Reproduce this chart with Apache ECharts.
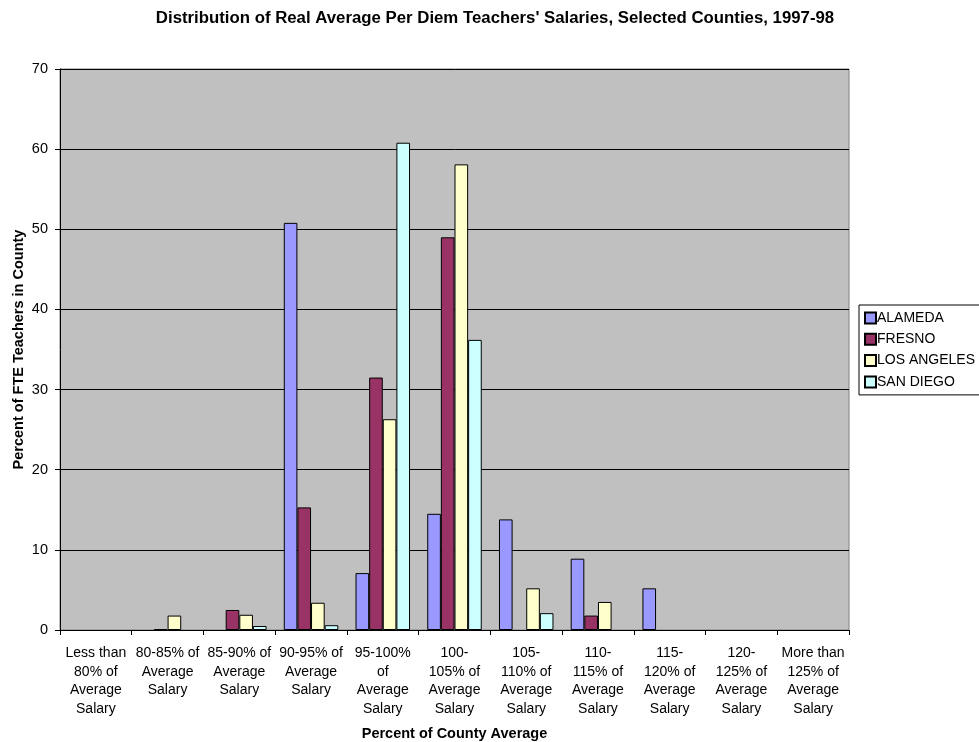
<!DOCTYPE html>
<html>
<head>
<meta charset="utf-8">
<script src="https://cdn.jsdelivr.net/npm/echarts@6/dist/echarts.min.js"></script>
<style>html,body{margin:0;padding:0;background:#fff}#c{width:979px;height:742px}</style>
</head>
<body>
<div id="c"></div>
<script>
const categories = [
  "Less than\n80% of\nAverage\nSalary",
  "80-85% of\nAverage\nSalary",
  "85-90% of\nAverage\nSalary",
  "90-95% of\nAverage\nSalary",
  "95-100%\nof\nAverage\nSalary",
  "100-\n105% of\nAverage\nSalary",
  "105-\n110% of\nAverage\nSalary",
  "110-\n115% of\nAverage\nSalary",
  "115-\n120% of\nAverage\nSalary",
  "120-\n125% of\nAverage\nSalary",
  "More than\n125% of\nAverage\nSalary"
];
const alameda    = [0, 0,   0,   50.8, 7.1,  14.5, 13.8, 8.9, 5.2, 0, 0];
const fresno     = [0, 0.1, 2.5, 15.3, 31.5, 49.0, 0,    1.8, 0,   0, 0];
const losAngeles = [0, 1.8, 1.9, 3.4,  26.3, 58.1, 5.2,  3.5, 0,   0, 0];
const sanDiego   = [0, 0,   0.5, 0.6,  60.8, 36.2, 2.1,  0,   0,   0, 0];
const seriesNames = ["ALAMEDA", "FRESNO", "LOS ANGELES", "SAN DIEGO"];
const colors = ["#9999FF", "#993366", "#FFFFCC", "#CCFFFF"];
const yTicks = { min: 0, max: 70, interval: 10 };

const font = "Liberation Sans, Arial, sans-serif";
const chart = echarts.init(document.getElementById('c'));
const dataSets = [alameda, fresno, losAngeles, sanDiego];
chart.setOption({
  animation: false,
  textStyle: { fontFamily: font },
  title: {
    text: "Distribution of Real Average Per Diem Teachers' Salaries, Selected Counties, 1997-98",
    left: 490, textAlign: 'center', top: 5,
    textStyle: { fontSize: 16.8, fontWeight: 'bold', color: '#000', fontFamily: font }
  },
  legend: {
    orient: 'vertical', left: 859, top: 305,
    itemWidth: 11, itemHeight: 11, itemGap: 7.3,
    padding: [6, 6, 6, 5],
    borderColor: '#000', borderWidth: 1, backgroundColor: '#fff',
    icon: 'rect',
    textStyle: { fontSize: 14, color: '#000', fontFamily: font, padding: [0, 0, 0, -4] },
    data: seriesNames
  },
  grid: {
    left: 60, right: 130, top: 69, bottom: 112,
    outerBoundsMode: 'none', containLabel: false,
    show: true, backgroundColor: '#C0C0C0', borderColor: '#808080', borderWidth: 1
  },
  xAxis: {
    type: 'category', data: categories,
    name: 'Percent of County Average', nameLocation: 'middle', nameGap: 96,
    nameMoveOverlap: false,
    nameTextStyle: { fontSize: 14.5, fontWeight: 'bold', color: '#000', fontFamily: font },
    axisLine: { lineStyle: { color: '#000', width: 1 } },
    axisTick: { show: true, length: 5, lineStyle: { color: '#000' } },
    axisLabel: { interval: 0, fontSize: 14, lineHeight: 18.8, color: '#000', margin: 13.5, fontFamily: font },
    splitLine: { show: false }
  },
  yAxis: {
    type: 'value', min: yTicks.min, max: yTicks.max, interval: yTicks.interval,
    name: 'Percent of FTE Teachers in County', nameLocation: 'middle', nameGap: 41,
    nameMoveOverlap: false,
    nameTextStyle: { fontSize: 14.5, fontWeight: 'bold', color: '#000', fontFamily: font, verticalAlign: 'middle' },
    axisLine: { show: true, lineStyle: { color: '#000', width: 1 } },
    axisTick: { show: true, length: 5, lineStyle: { color: '#000' } },
    axisLabel: { fontSize: 14.5, color: '#000', margin: 12, fontFamily: font },
    splitLine: { show: true, lineStyle: { color: '#000', width: 1 } }
  },
  series: dataSets.map((d, i) => ({
    name: seriesNames[i], type: 'bar',
    data: d.map(v => (v === 0 ? null : v)),
    barGap: '0%', barCategoryGap: '24%',
    itemStyle: { color: colors[i], borderColor: '#000', borderWidth: 1 }
  }))
});
</script>
</body>
</html>
